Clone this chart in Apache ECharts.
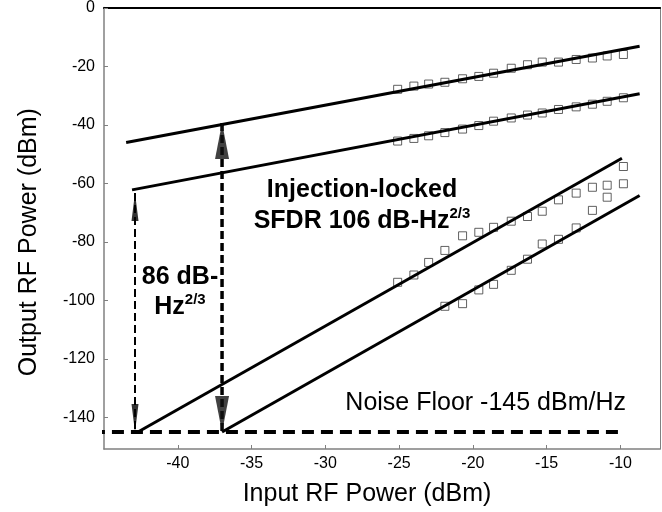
<!DOCTYPE html>
<html>
<head>
<meta charset="utf-8">
<script src="https://cdn.jsdelivr.net/npm/echarts@6/dist/echarts.min.js"></script>
<style>
html,body{margin:0;padding:0;background:#fff;}
#chart{width:662px;height:512px;}
</style>
</head>
<body>
<div id="chart"></div>
<script>
// ---- data ----
const xTicks = [-40, -35, -30, -25, -20, -15, -10];
const yTicks = [0, -20, -40, -60, -80, -100, -120, -140];

const inputPower = [-25.1, -24.0, -23.0, -21.9, -20.7, -19.6, -18.6, -17.4, -16.3, -15.3, -14.2, -13.0, -11.9, -10.9, -9.8];
const fundUpper = [-27.8, -26.7, -26.0, -25.4, -24.2, -23.4, -22.3, -20.6, -19.4, -18.5, -18.5, -17.6, -17.1, -16.4, -15.9];
const fundLower = [-45.5, -44.6, -43.7, -42.6, -41.4, -40.2, -38.7, -37.6, -36.6, -35.9, -34.7, -33.8, -32.9, -31.9, -30.7];
const imdUpper  = [-93.8, -91.3, -87.0, -82.9, -77.9, -76.7, -75.0, -72.9, -71.3, -69.5, -65.6, -63.3, -61.3, -60.6, -54.2];
const imdLowerInput = [-21.9, -20.7, -19.6, -18.6, -17.4, -16.3, -15.3, -14.2, -13.0, -11.9, -10.9, -9.8];
const imdLower  = [-102.0, -101.1, -96.4, -94.5, -89.7, -85.9, -80.7, -79.1, -75.2, -69.2, -64.7, -60.1];

const fitFundUpper = [[-43.5, -46.0], [-8.7, -13.1]];
const fitFundLower = [[-43.1, -62.2], [-8.7, -29.3]];
const fitImdUpper  = [[-42.7, -145], [-9.9, -51.4]];
const fitImdLower  = [[-37.0, -145], [-8.7, -64.1]];
const noiseFloor   = [[-45.75, -145], [-9.7, -145]];

const arrowSmall = [[-42.9, -63.3], [-42.9, -145]];   // 86 dB-Hz^2/3
const arrowBig   = [[-37.0, -39.3], [-37.0, -145]];   // 106 dB-Hz^2/3

// ---- chart ----
const FF = '"Liberation Sans", Arial, Helvetica, sans-serif';
const chart = echarts.init(document.getElementById('chart'), null, {renderer: 'canvas'});
const X_MIN = -45.0, X_MAX = -7.32, Y_MIN = -150.8, Y_MAX = 0.2;
const gray = '#808080';

function pts(xs, ys) { return xs.map((x, i) => [x, ys[i]]); }
const squareStyle = {color: 'rgba(0,0,0,0)', borderColor: '#3a3a3a', borderWidth: 1};
const downTri = 'path://M0,0L10,0L5,10Z';

const option = {
  animation: false,
  backgroundColor: '#fff',
  textStyle: {fontFamily: FF},
  grid: {left: 104, right: 2, top: 5, bottom: 63},
  xAxis: [{
    type: 'value', min: X_MIN, max: X_MAX,
    name: 'Input RF Power (dBm)', nameLocation: 'middle', nameGap: 33,
    nameTextStyle: {fontSize: 25, fontFamily: FF, color: '#000', padding: [0, 30, 0, 0]},
    axisLine: {show: true, onZero: false, lineStyle: {color: gray, width: 1.5}},
    axisTick: {show: true, inside: true, length: 4, customValues: xTicks, lineStyle: {color: gray}},
    axisLabel: {customValues: xTicks, fontSize: 16, fontFamily: FF, color: '#000', margin: 7},
    splitLine: {show: false}
  }, {
    type: 'value', position: 'top', min: X_MIN, max: X_MAX,
    axisLine: {show: true, onZero: false, lineStyle: {color: '#000', width: 2}},
    axisTick: {show: false}, axisLabel: {show: false}, splitLine: {show: false}
  }],
  yAxis: [{
    type: 'value', min: Y_MIN, max: Y_MAX,
    name: 'Output RF Power (dBm)', nameLocation: 'middle', nameGap: 62, nameRotate: 90,
    nameTextStyle: {fontSize: 25, fontFamily: FF, color: '#000', padding: [0, 28, 0, 0]},
    axisLine: {show: true, onZero: false, lineStyle: {color: gray, width: 1.5}},
    axisTick: {show: true, inside: true, length: 4, customValues: yTicks, lineStyle: {color: gray}},
    axisLabel: {customValues: yTicks, fontSize: 16, fontFamily: FF, color: '#000', margin: 9},
    splitLine: {show: false}
  }, {
    type: 'value', position: 'right', min: Y_MIN, max: Y_MAX,
    axisLine: {show: true, onZero: false, lineStyle: {color: gray, width: 1}},
    axisTick: {show: false}, axisLabel: {show: false}, splitLine: {show: false}
  }],
  series: [
    {type: 'scatter', silent: true, data: pts(inputPower, fundUpper), symbol: 'rect', symbolSize: 8, itemStyle: squareStyle, z: 2},
    {type: 'scatter', silent: true, data: pts(inputPower, fundLower), symbol: 'rect', symbolSize: 8, itemStyle: squareStyle, z: 2},
    {type: 'scatter', silent: true, data: pts(inputPower, imdUpper), symbol: 'rect', symbolSize: 8, itemStyle: squareStyle, z: 2},
    {type: 'scatter', silent: true, data: pts(imdLowerInput, imdLower), symbol: 'rect', symbolSize: 8, itemStyle: squareStyle, z: 2},

    {type: 'line', silent: true, data: fitFundUpper, symbol: 'none', lineStyle: {color: '#000', width: 3}, z: 3},
    {type: 'line', silent: true, data: fitFundLower, symbol: 'none', lineStyle: {color: '#000', width: 3}, z: 3},
    {type: 'line', silent: true, data: fitImdUpper, symbol: 'none', lineStyle: {color: '#000', width: 3}, z: 3},
    {type: 'line', silent: true, data: fitImdLower, symbol: 'none', lineStyle: {color: '#000', width: 3}, z: 3},
    {type: 'line', silent: true, data: noiseFloor, symbol: 'none', clip: false, lineStyle: {color: '#000', width: 4, type: [12, 7]}, z: 4},

    // arrows
    {type: 'line', silent: true, data: arrowSmall, symbol: 'none', lineStyle: {color: '#000', width: 2, type: [8, 4]}, z: 4},
    {type: 'line', silent: true, data: arrowBig, symbol: 'none', lineStyle: {color: '#000', width: 3.5, type: [8, 4]}, z: 4},
    {type: 'scatter', silent: true, data: [arrowSmall[0]], symbol: 'triangle', symbolSize: [7, 28], symbolOffset: [0, 14], itemStyle: {color: '#000'}, z: 5},
    {type: 'scatter', silent: true, data: [arrowSmall[1]], symbol: downTri, symbolSize: [7, 28], symbolOffset: [0, -14], itemStyle: {color: '#000'}, z: 5},
    {type: 'scatter', silent: true, data: [arrowBig[0]], symbol: 'triangle', symbolSize: [14, 36], symbolOffset: [0, 18], itemStyle: {color: '#111'}, z: 5},
    {type: 'scatter', silent: true, data: [arrowBig[1]], symbol: downTri, symbolSize: [14, 36], symbolOffset: [0, -18], itemStyle: {color: '#111'}, z: 5}
  ],
  graphic: [
    {
      type: 'text', x: 362, y: 175, z: 10,
      style: {
        text: '{b|Injection-locked}\n{b|SFDR 106 dB-Hz}{s|2/3}',
        align: 'center', verticalAlign: 'top',
        rich: {
          b: {fontSize: 25, fontWeight: 'bold', fontFamily: FF, lineHeight: 31, fill: '#000'},
          s: {fontSize: 15, fontWeight: 'bold', fontFamily: FF, lineHeight: 18, verticalAlign: 'top', fill: '#000'}
        }
      }
    },
    {
      type: 'text', x: 180, y: 262, z: 10,
      style: {
        text: '{b|86 dB-}\n{b|Hz}{s|2/3}',
        align: 'center', verticalAlign: 'top',
        rich: {
          b: {fontSize: 25, fontWeight: 'bold', fontFamily: FF, lineHeight: 30, fill: '#000'},
          s: {fontSize: 15, fontWeight: 'bold', fontFamily: FF, lineHeight: 18, verticalAlign: 'top', fill: '#000'}
        }
      }
    },
    {
      type: 'text', x: 626, y: 416, z: 10,
      style: {
        text: 'Noise Floor -145 dBm/Hz',
        align: 'right', verticalAlign: 'bottom',
        fontSize: 25, fontFamily: FF, fill: '#000'
      }
    }
  ]
};
chart.setOption(option);
</script>
</body>
</html>
